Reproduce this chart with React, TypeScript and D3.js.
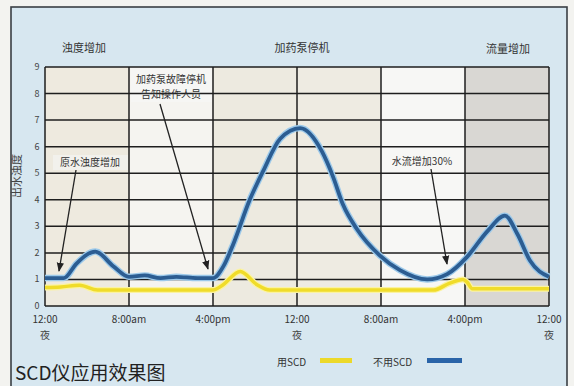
import React from "react";
import * as d3 from "d3";

const hoursBlue = [0, 1.8, 3, 4.8, 6.5, 8, 9.5, 11, 12.5, 14.5, 16, 17, 17.9, 19.5, 20.8, 22.4, 24.3, 26.4, 27.4, 28.4, 29.7, 31.9, 33.8, 36.4, 38.3, 40.2, 42.1, 43.8, 45, 46.2, 48];
const valuesBlue = [1.05, 1.05, 1.6, 2.05, 1.5, 1.1, 1.15, 1.05, 1.1, 1.05, 1.05, 1.5, 2.3, 4.0, 5.1, 6.3, 6.7, 5.8, 4.9, 3.8, 2.9, 1.9, 1.35, 1.0, 1.2, 1.85, 2.8, 3.4, 2.7, 1.7, 1.1];
const hoursYellow = [0, 1.5, 3.3, 5, 8, 16, 16.8, 18.6, 20.2, 21.4, 30, 37, 38.5, 39.8, 40.2, 40.7, 48];
const valuesYellow = [0.7, 0.72, 0.78, 0.6, 0.6, 0.6, 0.75, 1.3, 0.8, 0.6, 0.6, 0.6, 0.85, 1.0, 0.9, 0.65, 0.65];

const xTickHours = [0, 8, 16, 24, 32, 40, 48];
const xTickLabels = ["12:00", "8:00am", "4:00pm", "12:00", "8:00am", "4:00pm", "12:00"];
const xTickSub = ["夜", "", "", "夜", "", "", "夜"];
const yTicks = [0, 1, 2, 3, 4, 5, 6, 7, 8, 9];
const columnFills = ["#eeeadf", "#f5f4f0", "#edeae0", "#eeebe2", "#f7f7f5", "#d9d7d3"];
const phaseLabels = ["浊度增加", "加药泵停机", "流量增加"];
const legendLabels = ["用SCD", "不用SCD"];
const title = "SCD仪应用效果图";
const yTitle = "出水浊度";

const FONT = "'Noto Sans CJK SC', 'Noto Sans', sans-serif";

export default function App() {
  const x = d3.scaleLinear().domain([0, 48]).range([45, 549]);
  const y = d3.scaleLinear().domain([0, 9]).range([306, 67]);
  const line = d3
    .line<[number, number]>()
    .x((d) => x(d[0]))
    .y((d) => y(d[1]))
    .curve(d3.curveMonotoneX);
  const blue = line(hoursBlue.map((h, i) => [h, valuesBlue[i]]) as [number, number][]) || "";
  const yellow = line(hoursYellow.map((h, i) => [h, valuesYellow[i]]) as [number, number][]) || "";

  const cols = d3.range(6).map((i) => [i * 8, (i + 1) * 8]);

  return (
    <svg
      width={574}
      height={386}
      style={{ position: "absolute", left: 0, top: 0, fontFamily: FONT }}
    >
      <defs>
        <marker id="arr" viewBox="0 0 10 10" refX="9" refY="5" markerWidth="7" markerHeight="9" orient="auto">
          <path d="M0,1 L10,5 L0,9 z" fill="#222" />
        </marker>
      </defs>
      <rect x={0} y={0} width={574} height={386} fill="#f3f3f0" />
      <rect x={11} y={7} width={556} height={385} fill="#d7e7f0" stroke="#3a3f44" strokeWidth={1.6} />

      {cols.map((c, i) => (
        <rect key={i} x={x(c[0])} y={y(9)} width={x(c[1]) - x(c[0])} height={y(0) - y(9)} fill={columnFills[i]} />
      ))}

      {/* annotation boxes background */}
      <rect x={131} y={68} width={81} height={34} fill="#f6f6f4" />
      <rect x={53} y={155} width={75} height={15} fill="#f2f1ec" />
      <rect x={384} y={154} width={76} height={15} fill="#f7f7f5" />

      {/* grid */}
      {yTicks.map((t) => (
        <line key={"h" + t} x1={x(0)} x2={x(48)} y1={y(t)} y2={y(t)} stroke="#1e1e1e" strokeWidth={1.5} />
      ))}
      {xTickHours.map((h) => (
        <line key={"v" + h} x1={x(h)} x2={x(h)} y1={y(0)} y2={y(9)} stroke="#1e1e1e" strokeWidth={1.5} />
      ))}

      {/* y tick labels */}
      {yTicks.map((t) => (
        <text key={"yl" + t} x={37} y={y(t) + 3} fontSize={9} fill="#444" textAnchor="middle">
          {t}
        </text>
      ))}
      <text transform={`translate(21,176) rotate(-90)`} fontSize={11} fill="#444" textAnchor="middle">
        {yTitle}
      </text>

      {/* x tick labels */}
      {xTickHours.map((h, i) => (
        <g key={"xl" + h}>
          <text x={x(h)} y={323} fontSize={10} fill="#333" textAnchor="middle">
            {xTickLabels[i]}
          </text>
          {xTickSub[i] && (
            <text x={x(h)} y={339} fontSize={10} fill="#444" textAnchor="middle">
              {xTickSub[i]}
            </text>
          )}
        </g>
      ))}

      {/* phase labels */}
      <text x={84} y={52} fontSize={11} fill="#333" textAnchor="middle">{phaseLabels[0]}</text>
      <text x={302} y={52} fontSize={11} fill="#333" textAnchor="middle">{phaseLabels[1]}</text>
      <text x={508} y={53} fontSize={11} fill="#333" textAnchor="middle">{phaseLabels[2]}</text>

      {/* curves */}
      <path d={yellow} fill="none" stroke="#fbf3a0" strokeWidth={6} strokeLinejoin="round" />
      <path d={yellow} fill="none" stroke="#f0dc2a" strokeWidth={3.5} strokeLinejoin="round" />
      <path d={blue} fill="none" stroke="#9cc9ea" strokeWidth={6.5} strokeLinejoin="round" />
      <path d={blue} fill="none" stroke="#2c5d92" strokeWidth={3.8} strokeLinejoin="round" />

      {/* annotations */}
      <text x={90} y={166} fontSize={10} fill="#333" textAnchor="middle">原水浊度增加</text>
      <line x1={76} y1={170} x2={59} y2={271} stroke="#222" strokeWidth={1.3} markerEnd="url(#arr)" />

      <text x={171} y={83} fontSize={10} fill="#333" textAnchor="middle">加药泵故障停机</text>
      <text x={171} y={98} fontSize={10} fill="#333" textAnchor="middle">告知操作人员</text>
      <line x1={160} y1={104} x2={208} y2={269} stroke="#222" strokeWidth={1.3} markerEnd="url(#arr)" />

      <text x={422} y={165} fontSize={10} fill="#333" textAnchor="middle">水流增加30%</text>
      <line x1={431} y1={169} x2={447} y2={264} stroke="#222" strokeWidth={1.3} markerEnd="url(#arr)" />

      {/* legend */}
      <text x={277} y={366} fontSize={10} fill="#333">{legendLabels[0]}</text>
      <rect x={320} y={358} width={32} height={5} fill="#ecd92a" />
      <text x={373} y={366} fontSize={10} fill="#333">{legendLabels[1]}</text>
      <rect x={427} y={358} width={35} height={5} fill="#2a64a8" />

      {/* title */}
      <text x={15} y={380} fontSize={19} fill="#222">{title}</text>
    </svg>
  );
}
